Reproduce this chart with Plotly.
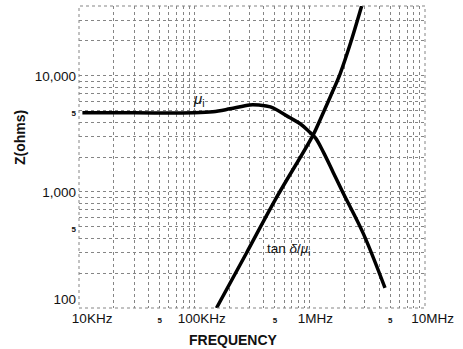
import plotly.graph_objects as go

# ---- data ----
mu_freq = [10.7e3, 30e3, 100e3, 145e3, 204e3, 302e3, 363e3, 457e3, 676e3, 832e3, 977e3, 1.122e6, 1.318e6, 1.596e6, 1.95e6, 2.9e6, 4.5e6]
mu_z    = [4800,   4800, 4800,  4900,  5200,  5620,  5600,  5400,  4350,  3850,  3350,  2920,    2190,    1480,    980,    444,   149]

tan_freq = [155.6e3, 281.8e3, 501e3, 1.07e6, 1.23e6, 1.51e6, 1.84e6, 2.29e6, 2.82e6, 2.88e6]
tan_z    = [100,     295,     851,   3090,   4170,   6610,   10470,  19950,  39800,  42700]

x_tickvals = [1e4, 5e4, 1e5, 5e5, 1e6, 5e6, 1e7]
x_ticktext = ["\u00a0" * 7 + "10KHz", "5", "\u00a0" * 4 + "100KHz", "5",
              "\u00a0" * 3 + "1MHz", "5", "\u00a0" * 4 + "10MHz"]
y_tickvals = [100, 500, 1000, 5000, 10000]
y_ticktext = ["100<br>\u00a0", "5", "1,000", "5", "10,000"]

small = '<span style="font-size:8px;font-weight:bold">{}</span>'
x_ticktext = [small.format(t) if t == "5" else t for t in x_ticktext]
y_ticktext = [small.format(t) if t == "5" else t for t in y_ticktext]

x_grid = [k * 10 ** n for n in range(4, 7) for k in range(1, 10)] + [1e7]
y_grid = [k * 10 ** n for n in range(2, 5) for k in range(1, 10) if k * 10 ** n <= 40000]

fig = go.Figure()
fig.add_trace(go.Scatter(x=mu_freq, y=mu_z, mode="lines",
                         line=dict(color="black", width=3.5, shape="spline", smoothing=1.0),
                         showlegend=False, hoverinfo="skip"))
fig.add_trace(go.Scatter(x=tan_freq, y=tan_z, mode="lines",
                         line=dict(color="black", width=3.5, shape="spline", smoothing=1.0),
                         showlegend=False, hoverinfo="skip"))

grid_style = dict(showgrid=True, gridcolor="#858585", griddash="dot", gridwidth=1)
tick_font = dict(family="Liberation Sans, Arial, sans-serif", size=13.5, color="#111")

fig.update_xaxes(type="log", range=[4, 7], tickmode="array",
                 tickvals=x_tickvals, ticktext=x_ticktext, tickangle=0,
                 ticks="", ticklabelstandoff=0, automargin=False,
                 tickfont=tick_font, showline=False, zeroline=False,
                 minor=dict(tickvals=x_grid, ticks="", **grid_style),
                 **grid_style)
fig.update_yaxes(type="log", range=[2, 4.60206], tickmode="array",
                 tickvals=y_tickvals, ticktext=y_ticktext,
                 ticks="", ticklabelstandoff=2, automargin=False,
                 tickfont=tick_font, showline=False, zeroline=False,
                 minor=dict(tickvals=y_grid, ticks="", **grid_style),
                 **grid_style)

# plot frame (dotted like the grid)
fig.add_shape(type="rect", xref="paper", yref="paper", x0=0, y0=0, x1=1, y1=1,
              line=dict(color="#858585", width=1, dash="dot"))

font_lbl = dict(family="Liberation Sans, Arial, sans-serif", color="#111")
fig.add_annotation(text="<b>FREQUENCY</b>", xref="paper", yref="paper",
                   x=(233 - 79) / 346, y=-(340 - 308) / 302, showarrow=False,
                   font=dict(size=14, **font_lbl), xanchor="center", yanchor="middle")
fig.add_annotation(text="<b>Z(ohms)</b>", xref="paper", yref="paper",
                   x=-(79 - 20) / 346, y=(308 - 138) / 302, showarrow=False, textangle=-90,
                   font=dict(size=14, **font_lbl), xanchor="center", yanchor="middle")
fig.add_annotation(text="<i>μ</i><sub>i</sub>", x=5.04, y=3.793, xref="x", yref="y",
                   showarrow=False, font=dict(size=15, **font_lbl), xanchor="center", yanchor="middle")
fig.add_annotation(text="tan <i>δ</i>/<i>μ</i><sub>i</sub>", x=5.813, y=2.5, xref="x", yref="y",
                   showarrow=False, font=dict(size=13.5, **font_lbl), xanchor="center", yanchor="middle")

fig.update_layout(width=463, height=349,
                  margin=dict(l=79, r=38, t=6, b=41, autoexpand=False),
                  paper_bgcolor="white", plot_bgcolor="white")

fig.write_html("out.html")
